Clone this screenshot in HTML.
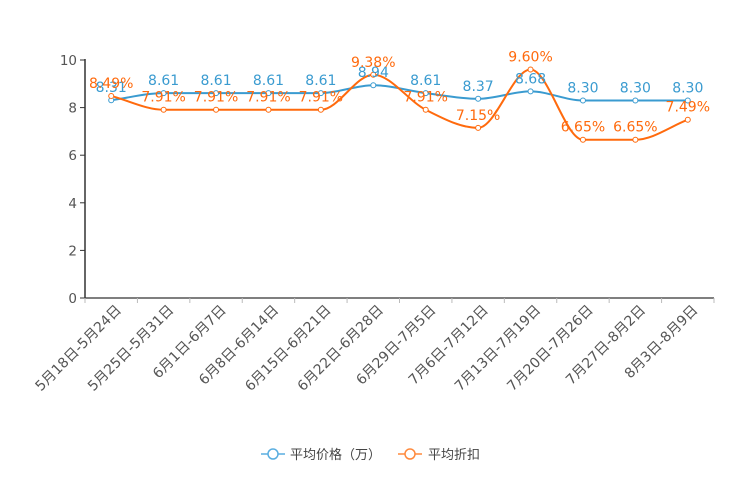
<!DOCTYPE html>
<html><head><meta charset="utf-8"><style>
html,body{margin:0;padding:0;background:#fff;}
svg{display:block;font-family:"DejaVu Sans","Noto Sans CJK SC",sans-serif;}
</style></head><body>
<svg id="c" width="744" height="496" xmlns="http://www.w3.org/2000/svg"></svg>
<script>
var s=document.getElementById('c');
var cats=["5月18日-5月24日","5月25日-5月31日","6月1日-6月7日","6月8日-6月14日","6月15日-6月21日","6月22日-6月28日","6月29日-7月5日","7月6日-7月12日","7月13日-7月19日","7月20日-7月26日","7月27日-8月2日","8月3日-8月9日"];
var a=[8.31,8.61,8.61,8.61,8.61,8.94,8.61,8.37,8.68,8.30,8.30,8.30];
var b=[8.49,7.91,7.91,7.91,7.91,9.38,7.91,7.15,9.60,6.65,6.65,7.49];
var x0=85,x1=714,y0=298,y10=60,bw=(x1-x0)/12;
function X(i){return x0+bw*(i+0.5);}function Y(v){return y0-(y0-y10)*v/10;}
var h='';
h+='<line x1="85" y1="59" x2="85" y2="298" stroke="#333" stroke-width="1.5"/>';
h+='<line x1="85" y1="298" x2="714" y2="298" stroke="#333" stroke-width="1.2"/>';
for(var v=0;v<=10;v+=2){var y=Y(v);h+='<line x1="80" y1="'+y+'" x2="85" y2="'+y+'" stroke="#333"/>';h+='<text x="77" y="'+(y+5)+'" text-anchor="end" font-size="13.5" fill="#555">'+v+'</text>';}
for(var i=0;i<=12;i++){var x=x0+bw*i;h+='<line x1="'+x+'" y1="298" x2="'+x+'" y2="303" stroke="#bbb"/>';}
for(var i=0;i<12;i++){var x=X(i)+4,y=304;h+='<text transform="translate('+x+','+y+') rotate(-45)" text-anchor="end" dominant-baseline="hanging" font-size="14" fill="#555">'+cats[i]+'</text>';}
function path(d){var p=d.map(function(v,i){return[X(i),Y(v)]});var n=p.length;
var sl=[],m=[];for(var i=0;i<n-1;i++)sl.push((p[i+1][1]-p[i][1])/(p[i+1][0]-p[i][0]));
for(var i=0;i<n;i++){if(i==0)m.push(sl[0]);else if(i==n-1)m.push(sl[n-2]);else{var s0=sl[i-1],s1=sl[i];m.push(s0*s1<=0?0:(s0+s1)/2*Math.min(1,3*Math.min(Math.abs(s0),Math.abs(s1))/Math.abs((s0+s1)/2)/2));}}
var str='M'+p[0][0]+','+p[0][1];
for(var i=0;i<n-1;i++){var dx=(p[i+1][0]-p[i][0])/3;
str+='C'+(p[i][0]+dx)+','+(p[i][1]+m[i]*dx)+' '+(p[i+1][0]-dx)+','+(p[i+1][1]-m[i+1]*dx)+' '+p[i+1][0]+','+p[i+1][1];}return str;}
function series(d,col){h+='<path d="'+path(d)+'" fill="none" stroke="'+col+'" stroke-width="2"/>';
d.forEach(function(v,i){h+='<circle cx="'+X(i)+'" cy="'+Y(v)+'" r="2.5" fill="#fff" stroke="'+col+'" stroke-width="1"/>';});}
function labels(d,col,fmt){d.forEach(function(v,i){h+='<text x="'+X(i)+'" y="'+(Y(v)-8)+'" text-anchor="middle" font-size="14" fill="'+col+'">'+fmt(v)+'</text>';});}
series(a,'#3a9bd0');series(b,'#ff6a0d');
labels(a,'#3a9bd0',function(v){return v.toFixed(2)});
labels(b,'#ff6a0d',function(v){return v.toFixed(2)+'%'});
h+='<line x1="261" y1="454" x2="285" y2="454" stroke="#5aaee0" stroke-width="1.5"/><circle cx="273" cy="454" r="5" fill="#fff" stroke="#5aaee0" stroke-width="1.5"/>';
h+='<text x="290" y="459" font-size="13" fill="#444">平均价格（万）</text>';
h+='<line x1="398" y1="454" x2="422" y2="454" stroke="#ff8a3d" stroke-width="1.5"/><circle cx="410" cy="454" r="5" fill="#fff" stroke="#ff8a3d" stroke-width="1.5"/>';
h+='<text x="428" y="459" font-size="13" fill="#444">平均折扣</text>';
s.innerHTML=h;
</script>
</body></html>
